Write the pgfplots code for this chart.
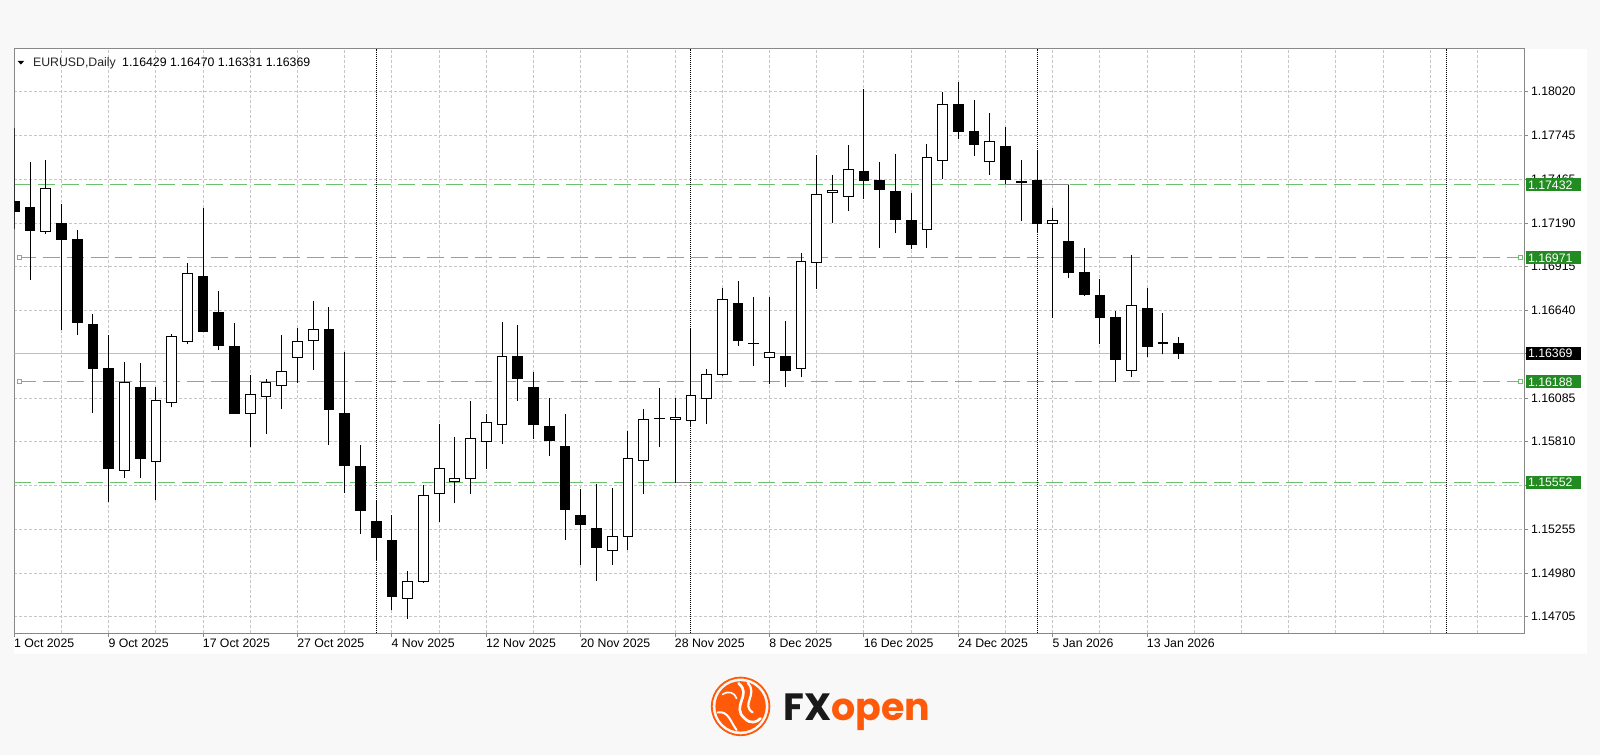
\documentclass[border=0pt]{standalone}
\usepackage{fontspec}
\setmainfont{Liberation Sans}
\newfontfamily\logofont{Poppins}
\usepackage{pgfplots}
\usepackage{pgfplotstable}
\pgfplotsset{compat=1.18}

\definecolor{pagebg}{HTML}{F8F8F8}
\definecolor{lvl}{HTML}{6CBF6C}
\definecolor{lvlbox}{HTML}{228B22}
\definecolor{gridc}{HTML}{C6C6C6}
\definecolor{framec}{HTML}{888888}
\definecolor{fxorange}{HTML}{FF5A0A}

% daily bars, x = bar number from 1 Oct 2025
\pgfplotstableread{
x o h l c
0 1.17329 1.17788 1.17155 1.17266
1 1.17290 1.17579 1.16830 1.17143
2 1.17136 1.17591 1.17120 1.17410
3 1.17190 1.17313 1.16517 1.17090
4 1.17085 1.17148 1.16483 1.16564
5 1.16547 1.16617 1.15991 1.16274
6 1.16274 1.16483 1.15432 1.15643
7 1.15625 1.16313 1.15583 1.16186
8 1.16151 1.16306 1.15583 1.15701
9 1.15682 1.16153 1.15439 1.16072
10 1.16060 1.16487 1.16026 1.16476
11 1.16443 1.16939 1.16425 1.16872
12 1.16851 1.17283 1.16500 1.16506
13 1.16626 1.16761 1.16390 1.16418
14 1.16413 1.16557 1.15984 1.15991
15 1.15991 1.16232 1.15775 1.16105
16 1.16093 1.16209 1.15861 1.16186
17 1.16163 1.16483 1.16014 1.16255
18 1.16339 1.16529 1.16181 1.16445
19 1.16448 1.16696 1.16260 1.16517
20 1.16517 1.16661 1.15787 1.16014
21 1.15991 1.16378 1.15485 1.15659
22 1.15655 1.15787 1.15230 1.15374
23 1.15304 1.15439 1.15056 1.15202
24 1.15184 1.15346 1.14748 1.14831
25 1.14820 1.14994 1.14692 1.14929
26 1.14924 1.15536 1.14920 1.15469
27 1.15481 1.15919 1.15304 1.15643
28 1.15560 1.15838 1.15420 1.15578
29 1.15578 1.16065 1.15481 1.15829
30 1.15810 1.15984 1.15636 1.15933
31 1.15919 1.16564 1.15794 1.16348
32 1.16348 1.16545 1.16070 1.16209
33 1.16151 1.16251 1.15829 1.15919
34 1.15903 1.16084 1.15722 1.15815
35 1.15780 1.15984 1.15189 1.15381
36 1.15342 1.15513 1.15033 1.15288
37 1.15260 1.15543 1.14929 1.15142
38 1.15126 1.15520 1.15033 1.15214
39 1.15212 1.15875 1.15126 1.15706
40 1.15689 1.16019 1.15481 1.15949
41 1.15958 1.16146 1.15775 1.15954
42 1.15949 1.16088 1.15552 1.15965
43 1.15945 1.16529 1.15903 1.16100
44 1.16084 1.16267 1.15919 1.16232
45 1.16232 1.16779 1.16223 1.16707
46 1.16680 1.16823 1.16413 1.16448
47 1.16431 1.16721 1.16285 1.16427
48 1.16343 1.16721 1.16174 1.16371
49 1.16350 1.16575 1.16153 1.16260
50 1.16274 1.17000 1.16216 1.16951
51 1.16939 1.17623 1.16777 1.17371
52 1.17382 1.17496 1.17194 1.17394
53 1.17359 1.17684 1.17264 1.17531
54 1.17519 1.18036 1.17345 1.17461
55 1.17457 1.17579 1.17032 1.17405
56 1.17392 1.17626 1.17125 1.17213
57 1.17206 1.17380 1.17028 1.17058
58 1.17148 1.17693 1.17032 1.17603
59 1.17584 1.18018 1.17468 1.17939
60 1.17939 1.18083 1.17723 1.17770
61 1.17770 1.17967 1.17612 1.17684
62 1.17579 1.17886 1.17496 1.17707
63 1.17672 1.17800 1.17438 1.17468
64 1.17452 1.17591 1.17201 1.17448
65 1.17461 1.17654 1.17136 1.17190
66 1.17190 1.17287 1.16594 1.17208
67 1.17074 1.17432 1.16842 1.16881
68 1.16881 1.17032 1.16733 1.16742
69 1.16731 1.16835 1.16425 1.16594
70 1.16592 1.16633 1.16186 1.16332
71 1.16258 1.16988 1.16221 1.16668
72 1.16652 1.16779 1.16343 1.16413
73 1.16434 1.16622 1.16362 1.16430
74 1.16429 1.16470 1.16331 1.16369
}\candles

\pgfplotsset{
  chartbase/.style={
    scale only axis, width=754.85pt, height=292.15pt,
    at={(7.15pt,60.85pt)}, anchor=south west,
    xmin=0, xmax=95.95, ymin=1.14600, ymax=1.18290,
  },
}
\newcommand\lblfont{\fontsize{6.15}{7}\selectfont}

\begin{document}
\begin{tikzpicture}[x=1pt,y=1pt]
\fill[pagebg] (0,0) rectangle (800,377.5);
\fill[white] (7.15,50.5) rectangle (793.5,353);

\begin{axis}[chartbase,
  font=\lblfont,
  axis line style={framec, line width=0.5pt},
  tick style={framec, line width=0.5pt},
  tick align=outside, major tick length=2pt,
  xtick pos=left, ytick pos=right,
  xticklabel pos=left, yticklabel pos=right,
  xtick={0,6,...,72},
  xticklabels={1 Oct 2025,9 Oct 2025,17 Oct 2025,27 Oct 2025,4 Nov 2025,12 Nov 2025,20 Nov 2025,28 Nov 2025,8 Dec 2025,16 Dec 2025,24 Dec 2025,5 Jan 2026,13 Jan 2026},
  xticklabel style={anchor=north west, inner sep=0pt, yshift=-0.4pt, xshift=-0.3pt},
  ytick={1.14705,1.14980,1.15255,1.15535,1.15810,1.16085,1.16365,1.16640,1.16915,1.17190,1.17465,1.17745,1.18020},
  yticklabels={1.14705,1.14980,1.15255,1.15535,1.15810,1.16085,1.16365,1.16640,1.16915,1.17190,1.17465,1.17745,1.18020},
  yticklabel style={anchor=west, inner sep=0pt, xshift=1.3pt},
  scaled y ticks=false,
  ymajorgrids=true,
  grid style={gridc, line width=0.5pt, dash pattern=on 1.5pt off 1pt},
  extra x ticks={3,6,...,93},
  extra x tick labels={},
  extra x tick style={grid=major, major tick length=0pt},
]
% current price line
\addplot[black!25, line width=0.5pt] coordinates {(0,1.16369) (95.95,1.16369)};
% horizontal levels
\addplot[lvl, line width=0.5pt, dash pattern=on 8.5pt off 3.5pt] coordinates {(0,1.17432) (95.95,1.17432)};
\addplot[lvl, line width=0.5pt, dash pattern=on 8.5pt off 3.5pt] coordinates {(0.3,1.16971) (95.7,1.16971)};
\addplot[lvl, line width=0.5pt, dash pattern=on 8.5pt off 3.5pt] coordinates {(0.3,1.16188) (95.7,1.16188)};
\addplot[lvl, line width=0.5pt, dash pattern=on 8.5pt off 3.5pt] coordinates {(0,1.15552) (95.95,1.15552)};
\addplot[black!45, line width=0.5pt] coordinates {(63,1.17432) (67,1.17432)};
\addplot[black!45, line width=0.5pt] coordinates {(42,1.15552) (43,1.15552)};
\addplot[only marks, lvl, mark=square*, mark size=1pt, mark options={fill=white, line width=0.4pt, solid}]
  coordinates {(0.3,1.16971) (95.7,1.16971) (0.3,1.16188) (95.7,1.16188)};
% month separators
\addplot[black, line width=0.5pt, dash pattern=on 0.5pt off 0.5pt] coordinates {(23,1.146) (23,1.1829)};
\addplot[black, line width=0.5pt, dash pattern=on 0.5pt off 0.5pt] coordinates {(43,1.146) (43,1.1829)};
\addplot[black, line width=0.5pt, dash pattern=on 0.5pt off 0.5pt] coordinates {(65,1.146) (65,1.1829)};
\addplot[black, line width=0.5pt, dash pattern=on 0.5pt off 0.5pt] coordinates {(91,1.146) (91,1.1829)};
% wicks
\addplot[draw=none, mark=none,
  error bars/.cd, y dir=plus, y explicit, error mark=none,
  error bar style={draw=black, line width=0.5pt, solid}]
  table[x=x, y=l, y error plus expr=\thisrow{h}-\thisrow{l}] {\candles};

\coordinate (tl) at (rel axis cs:0,1);
\coordinate (p1) at (axis cs:95.95,1.17432);
\coordinate (p2) at (axis cs:95.95,1.16971);
\coordinate (p3) at (axis cs:95.95,1.16369);
\coordinate (p4) at (axis cs:95.95,1.16188);
\coordinate (p5) at (axis cs:95.95,1.15552);
\end{axis}

% candle bodies
\begin{axis}[chartbase, hide axis, ybar stacked, bar width=0.62]
\addplot[draw=none, fill=none] table[x=x, y expr={min(\thisrow{o},\thisrow{c})}] {\candles};
\addplot[draw=black, fill=white, line width=0.5pt] table[x=x, y expr={max(\thisrow{c}-\thisrow{o},0)}] {\candles};
\addplot[draw=black, fill=black, line width=0.5pt] table[x=x, y expr={max(\thisrow{o}-\thisrow{c},0)}] {\candles};
\end{axis}

% header
\fill[black] ([xshift=1.6pt,yshift=-5.9pt]tl) -- ++(3.4pt,0) -- ++(-1.7pt,-1.9pt) -- cycle;
\node[anchor=west, inner sep=0pt, font=\lblfont] at ([xshift=9.2pt,yshift=-7pt]tl)
  {\textcolor{black!85}{EURUSD,Daily}\hspace{3.2pt}1.16429 1.16470 1.16331 1.16369};

% price boxes
\foreach \p/\v/\col in {p1/1.17432/lvlbox, p2/1.16971/lvlbox, p3/1.16369/black, p4/1.16188/lvlbox, p5/1.15552/lvlbox}{
  \node[anchor=west, fill=\col, text=white, inner sep=0pt, minimum height=6.6pt, font=\lblfont]
    at ([xshift=0.8pt]\p) {\makebox[27.3pt][l]{\hspace{1pt}\v}};
}

% logo
\begin{scope}[shift={(370.3,24.3)}]
  \draw[fxorange, line width=0.9pt] (0,0) circle (14.4);
  \fill[fxorange] (0,0) circle (12.6);
  \draw[white, line width=1.3pt, line cap=round] (-1,11.5) .. controls (6,6) and (-5,0) .. (2,-6) .. controls (5,-9) and (8,-8) .. (10,-6);
  \draw[white, line width=1.1pt, line cap=round] (3.5,11.8) .. controls (9,6) and (0,1) .. (6,-3);
  \draw[white, line width=1pt, line cap=round] (-11.5,-3) .. controls (-6,-2) and (-5,-8) .. (-2,-11.8);
  \draw[white, line width=0.8pt, line cap=round] (-9,6) .. controls (-6,8) and (-3,7) .. (-2,4);
\end{scope}
\node[anchor=base west, inner sep=0pt] at (391.5,17.5)
  {\logofont\bfseries\fontsize{19}{19}\selectfont\textcolor{black!90}{FX}\textcolor{fxorange}{open}};

\pgfresetboundingbox
\useasboundingbox (0,0) rectangle (800,377.5);
\end{tikzpicture}
\end{document}
